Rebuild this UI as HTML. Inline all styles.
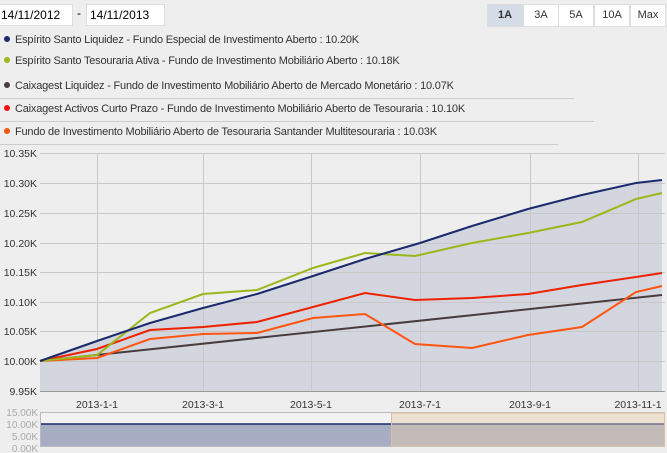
<!DOCTYPE html>
<html><head><style>
body{margin:0;background:#eeeeee;width:667px;height:453px;overflow:hidden;font-family:"Liberation Sans",sans-serif;position:relative}
.box{position:absolute;background:#fff;border:1px solid #ddd;font-size:12px;color:#000;line-height:20px;height:20px}
.leg{position:absolute;left:4px;font-size:11px;letter-spacing:-0.2px;color:#333}
.leg span{display:inline-block;width:6px;height:6px;border-radius:50%;margin-right:5px;vertical-align:1px}
.ln{position:absolute;left:0;height:1px;background:#ccc}
.btn{position:absolute;top:4px;height:21px;line-height:21px;text-align:center;font-size:11px;background:#fff;border:1px solid #ddd;color:#333;width:34px}
</style></head><body>
<div class="box" style="left:-1px;top:4px;width:71px;padding-left:1px">14/11/2012</div>
<div style="position:absolute;left:77px;top:6px;font-size:12px">-</div>
<div class="box" style="left:86px;top:4px;width:74px;padding-left:3px">14/11/2013</div>
<div class="btn" style="left:487px;background:#d4dce7;font-weight:bold">1A</div>
<div class="btn" style="left:523px">3A</div>
<div class="btn" style="left:558px">5A</div>
<div class="btn" style="left:594px">10A</div>
<div class="btn" style="left:630px">Max</div>
<div class="leg" style="top:34px"><span style="background:#1a2a6c"></span>Espírito Santo Liquidez - Fundo Especial de Investimento Aberto : 10.20K</div>
<div class="leg" style="top:55px"><span style="background:#9ab81c"></span>Espírito Santo Tesouraria Ativa - Fundo de Investimento Mobiliário Aberto : 10.18K</div>
<div class="leg" style="top:80px"><span style="background:#4a3c3c"></span>Caixagest Liquidez - Fundo de Investimento Mobiliário Aberto de Mercado Monetário : 10.07K</div>
<div class="ln" style="top:98px;width:574px"></div>
<div class="leg" style="top:103px"><span style="background:#ee1111"></span>Caixagest Activos Curto Prazo - Fundo de Investimento Mobiliário Aberto de Tesouraria : 10.10K</div>
<div class="ln" style="top:121px;width:594px"></div>
<div class="leg" style="top:126px"><span style="background:#ff5511"></span>Fundo de Investimento Mobiliário Aberto de Tesouraria Santander Multitesouraria : 10.03K</div>
<div class="ln" style="top:144px;width:558px"></div>
<svg width="667" height="453" style="position:absolute;left:0;top:0" font-family="Liberation Sans" font-size="11" fill="#333">
<rect x="40" y="153" width="625" height="238" fill="#eeeeee"/>
<polygon points="40,361 97,341 150,323 203,308 257,294 313,276 365,259 420,243 472,226 528,209 582,195 636,183 662,180 662,391 40,391" fill="#d3d6df"/>
<g stroke="#c8c8c8" stroke-width="1">
<line x1="40" x2="665" y1="183.5" y2="183.5"/><line x1="40" x2="665" y1="213.5" y2="213.5"/><line x1="40" x2="665" y1="243.5" y2="243.5"/><line x1="40" x2="665" y1="272.5" y2="272.5"/><line x1="40" x2="665" y1="302.5" y2="302.5"/><line x1="40" x2="665" y1="331.5" y2="331.5"/><line x1="40" x2="665" y1="361.5" y2="361.5"/><line x1="40" x2="665" y1="153.5" y2="153.5"/>
<line x1="97.5" x2="97.5" y1="153" y2="391"/><line x1="203.5" x2="203.5" y1="153" y2="391"/><line x1="311.5" x2="311.5" y1="153" y2="391"/><line x1="420.5" x2="420.5" y1="153" y2="391"/><line x1="530.5" x2="530.5" y1="153" y2="391"/><line x1="638.5" x2="638.5" y1="153" y2="391"/>
</g>
<line x1="40" x2="665" y1="391.5" y2="391.5" stroke="#999"/>
<g fill="none" stroke-width="2">
<polyline stroke="#4a3c3c" points="40,361 662,295"/>
<polyline stroke="#ff5511" points="40,361 97,358 150,339 203,334 257,333 313,318 365,314 415,344 472,348 528,335 582,327 636,292 662,286"/>
<polyline stroke="#ee2200" points="40,361 97,349 150,330 203,327 257,322 313,307 365,293 415,300 472,298 528,294 582,285 636,277 662,273"/>
<polyline stroke="#9ab81c" points="40,361 97,355 150,313 203,294 257,290 313,268 365,253 415,256 472,243 528,233 582,222 636,199 662,193"/>
<polyline stroke="#1a2a6c" points="40,361 97,341 150,323 203,308 257,294 313,276 365,259 420,243 472,226 528,209 582,195 636,183 662,180"/>
</g>
<g text-anchor="end" font-size="10.5">
<text x="37" y="157">10.35K</text><text x="37" y="187">10.30K</text><text x="37" y="217">10.25K</text><text x="37" y="247">10.20K</text><text x="37" y="276">10.15K</text><text x="37" y="306">10.10K</text><text x="37" y="335">10.05K</text><text x="37" y="365">10.00K</text><text x="37" y="395">9.95K</text>
</g>
<g text-anchor="middle" font-size="10.5">
<text x="97" y="408">2013-1-1</text><text x="203" y="408">2013-3-1</text><text x="311" y="408">2013-5-1</text><text x="420" y="408">2013-7-1</text><text x="530" y="408">2013-9-1</text><text x="638" y="408">2013-11-1</text>
</g>
<rect x="40.5" y="412.5" width="624" height="34" fill="#f2f2f2" stroke="#bbb"/>
<rect x="41" y="424" width="623" height="22" fill="#a7adc3"/>
<line x1="41" x2="664" y1="424" y2="424" stroke="#1a2a6c" stroke-width="1.5"/>
<rect x="391.5" y="413" width="273" height="33" fill="rgba(230,205,170,0.45)" stroke="#d8c0a0"/>
<g text-anchor="end" font-size="10" fill="#aaa">
<text x="38" y="416">15.00K</text><text x="38" y="428">10.00K</text><text x="38" y="440">5.00K</text><text x="38" y="452">0.00K</text>
</g>
</svg>
</body></html>
